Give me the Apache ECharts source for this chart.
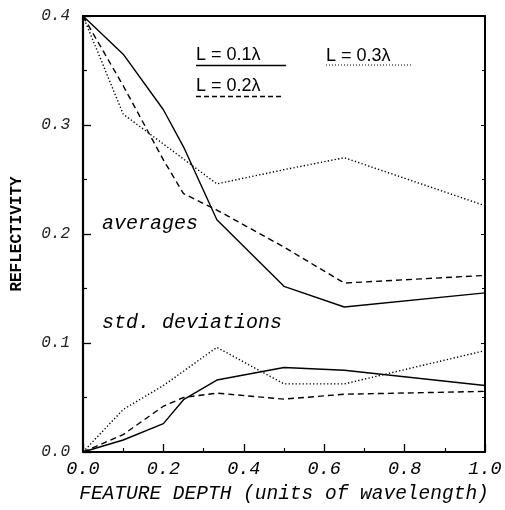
<!DOCTYPE html>
<html>
<head>
<meta charset="utf-8">
<script src="https://cdn.jsdelivr.net/npm/echarts@6/dist/echarts.min.js"></script>
<style>
html,body{margin:0;padding:0;background:#fff;}
#c{width:505px;height:510px;}
</style>
</head>
<body>
<div id="c"></div>
<script>
// Feature depth (units of wavelength) and reflectivity values
const depthA1 = [0, 0.1, 0.2, 0.25, 0.333, 0.5, 0.65, 1.0];
const avgL01  = [0.400, 0.365, 0.314, 0.280, 0.213, 0.152, 0.133, 0.146];
const depthA2 = [0, 0.1, 0.2, 0.25, 0.333, 0.5, 0.65, 1.0];
const avgL02  = [0.400, 0.336, 0.268, 0.237, 0.222, 0.188, 0.155, 0.162];
const depthA3 = [0, 0.1, 0.333, 0.5, 0.65, 1.0];
const avgL03  = [0.400, 0.310, 0.246, 0.259, 0.270, 0.226];

const depthS1 = [0, 0.1, 0.2, 0.25, 0.333, 0.5, 0.65, 1.0];
const stdL01  = [0.000, 0.011, 0.026, 0.048, 0.066, 0.0775, 0.075, 0.061];
const depthS2 = [0, 0.1, 0.2, 0.25, 0.333, 0.5, 0.65, 1.0];
const stdL02  = [0.000, 0.016, 0.042, 0.050, 0.054, 0.0485, 0.053, 0.0556];
const depthS3 = [0, 0.1, 0.2, 0.333, 0.5, 0.65, 1.0];
const stdL03  = [0.000, 0.039, 0.061, 0.096, 0.0625, 0.0625, 0.093];

const legendLabels = ['L = 0.1\u03bb', 'L = 0.2\u03bb', 'L = 0.3\u03bb'];
const annotations = ['averages', 'std. deviations'];
const xTitle = 'FEATURE DEPTH (units of wavelength)';
const yTitle = 'REFLECTIVITY';

const pairs = (xs, ys) => xs.map((x, i) => [x, ys[i]]);

const mono = 'Liberation Mono';
const solid = {color:'#000', width:1.4, type:'solid'};
const dashed = {color:'#000', width:1.4, type:[6,4]};
const dotted = {color:'#000', width:1.4, type:[1.3,2.2]};

function line(name, data, style){
  return {name, type:'line', data, symbol:'none', lineStyle:style, silent:true, animation:false, z:3};
}

const chart = echarts.init(document.getElementById('c'), null, {renderer:'canvas'});
chart.setOption({
  backgroundColor:'#fff',
  animation:false,
  grid:{left:83, right:20, top:16, bottom:58, containLabel:false, outerBoundsMode:'none'},
  xAxis:[{
    type:'value', min:0, max:1, interval:0.2,
    name:xTitle, nameLocation:'middle', nameGap:32,
    nameTextStyle:{fontFamily:mono, fontStyle:'italic', fontSize:19.5, color:'#000'},
    axisLine:{show:true, lineStyle:{color:'#000', width:2}},
    axisTick:{show:true, inside:true, length:8, lineStyle:{color:'#000', width:1.3}},
    minorTick:{show:true, splitNumber:2, length:4, lineStyle:{color:'#000', width:1.2}},
    splitLine:{show:false},
    axisLabel:{fontFamily:mono, fontStyle:'italic', fontSize:18.5, color:'#000', margin:8,
      formatter:v=>v.toFixed(1)}
  },{
    type:'value', position:'top', min:0, max:1,
    axisLine:{show:true, onZero:false, lineStyle:{color:'#000', width:2}},
    axisTick:{show:false}, axisLabel:{show:false}, splitLine:{show:false}
  }],
  yAxis:[{
    type:'value', min:0, max:0.4, interval:0.1,
    name:yTitle, nameLocation:'middle', nameGap:58, nameRotate:90,
    nameTextStyle:{fontFamily:mono, fontWeight:'bold', fontSize:16, color:'#000'},
    axisLine:{show:true, lineStyle:{color:'#000', width:2.2}},
    axisTick:{show:true, inside:true, length:8, lineStyle:{color:'#000', width:1.3}},
    minorTick:{show:true, splitNumber:2, length:4, lineStyle:{color:'#000', width:1.2}},
    splitLine:{show:false},
    axisLabel:{fontFamily:mono, fontStyle:'italic', fontSize:16, color:'#222', margin:13,
      formatter:v=>v.toFixed(1)}
  },{
    type:'value', position:'right', min:0, max:0.4, interval:0.1,
    axisLine:{show:true, onZero:false, lineStyle:{color:'#000', width:2}},
    axisTick:{show:true, inside:true, length:4, lineStyle:{color:'#000', width:1}},
    minorTick:{show:true, splitNumber:2, length:3, lineStyle:{color:'#000', width:1}},
    axisLabel:{show:false}, splitLine:{show:false}
  }],
  series:[
    line('avg 0.1', pairs(depthA1, avgL01), solid),
    line('avg 0.2', pairs(depthA2, avgL02), dashed),
    line('avg 0.3', pairs(depthA3, avgL03), dotted),
    line('std 0.1', pairs(depthS1, stdL01), solid),
    line('std 0.2', pairs(depthS2, stdL02), dashed),
    line('std 0.3', pairs(depthS3, stdL03), dotted)
  ],
  graphic:[
    {type:'text', left:196, top:46, style:{text:legendLabels[0], font:'18px "Liberation Sans"', fill:'#000'}},
    {type:'line', shape:{x1:196, y1:65.5, x2:286, y2:65.5}, style:{stroke:'#000', lineWidth:1.4}},
    {type:'text', left:196, top:77, style:{text:legendLabels[1], font:'18px "Liberation Sans"', fill:'#000'}},
    {type:'line', shape:{x1:196, y1:96.5, x2:282, y2:96.5}, style:{stroke:'#000', lineWidth:1.4, lineDash:[5,3]}},
    {type:'text', left:326, top:47, style:{text:legendLabels[2], font:'18px "Liberation Sans"', fill:'#000'}},
    {type:'line', shape:{x1:326, y1:65, x2:413, y2:65}, style:{stroke:'#000', lineWidth:1.2, lineDash:[1,2]}},
    {type:'text', left:102, top:214, style:{text:annotations[0], font:'italic 20px "Liberation Mono"', fill:'#000'}},
    {type:'text', left:102, top:313, style:{text:annotations[1], font:'italic 20px "Liberation Mono"', fill:'#000'}}
  ]
});
</script>
</body>
</html>
